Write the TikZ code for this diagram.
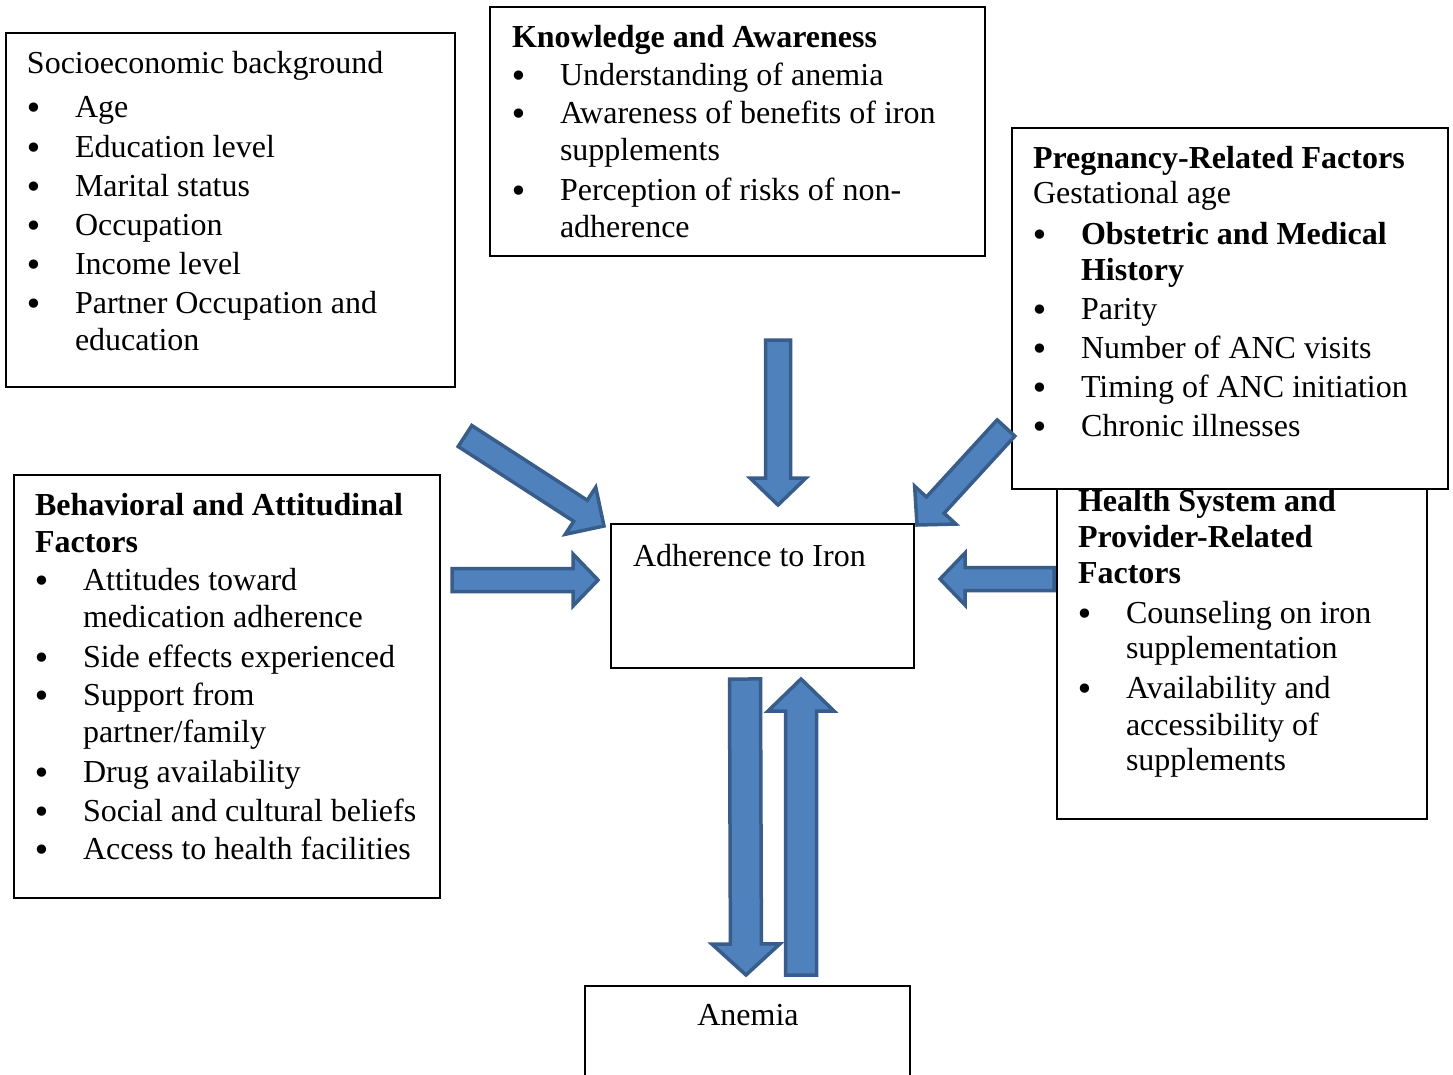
\documentclass[tikz,border=0pt]{standalone}
\usepackage{fontspec}
\setmainfont{Liberation Serif}
\newfontfamily\dejavu{DejaVu Sans}
\usetikzlibrary{calc}
\definecolor{arrfill}{HTML}{4F81BD}
\definecolor{arrline}{HTML}{385D8A}
% #1 tail, #2 tip, #3 half shaft, #4 half head, #5 head length, #6 id
\newcommand\blockarr[6]{%
  \coordinate (#6-base) at ($(#2)!#5pt!(#1)$);
  \draw[blockarrow] ($(#1)!#3pt!90:(#2)$) -- ($(#6-base)!#3pt!90:(#2)$) -- ($(#6-base)!#4pt!90:(#2)$) -- (#2)
    -- ($(#6-base)!#4pt!-90:(#2)$) -- ($(#6-base)!#3pt!-90:(#2)$) -- ($(#1)!#3pt!-90:(#2)$) -- cycle;
}
\newcommand\bu{\makebox[48pt][l]{\hspace*{7pt}\makebox[0pt][c]{\raisebox{-2.5pt}{\dejavu •}}}}
\newcommand\hd[1]{\multicolumn{2}{@{}l@{}}{#1}}
\begin{document}
\begin{tikzpicture}[x=1pt,y=-1pt,
  box/.style={draw, line width=1.8pt, rectangle, inner sep=0pt, outer sep=0pt, anchor=north west, fill=white},
  txt/.style={anchor=base west, inner sep=0pt, outer sep=0pt, font=\fontsize{32}{37}\selectfont},
  blockarrow/.style={fill=arrfill, draw=arrline, line width=3.5pt, line join=miter}]
\useasboundingbox (0,0) rectangle (1453,1074);
\fill[white] (0,0) rectangle (1453,1074);

% Socioeconomic
\node[box, minimum width=449pt, minimum height=354pt] (soc) at (6,33) {};
\node[txt] (soct) at (27,73) {\begin{tabular}[t]{@{}l@{}l@{}}
\hd{Socioeconomic background}\\[7pt]
\bu & Age\\[3pt]
\bu & Education level\\[2pt]
\bu & Marital status\\[2pt]
\bu & Occupation\\[2pt]
\bu & Income level\\[2pt]
\bu & Partner Occupation and\\
 & education
\end{tabular}};

% Knowledge
\node[box, minimum width=495pt, minimum height=249pt] (kno) at (490,7) {};
\node[txt] (knot) at (512,47) {\begin{tabular}[t]{@{}l@{}l@{}}
\hd{\textbf{Knowledge and Awareness}}\\[1pt]
\bu & Understanding of anemia\\[1pt]
\bu & Awareness of benefits of iron\\
 & supplements\\[3pt]
\bu & Perception of risks of non-\\
 & adherence
\end{tabular}};

% Health system (behind pregnancy box)
\node[box, minimum width=370pt, minimum height=341pt] (hea) at (1057,478) {};
\node[txt] (heat) at (1078,511) {\begin{tabular}[t]{@{}l@{}l@{}}
\hd{\textbf{Health System and}}\\[-1pt]
\hd{\textbf{Provider-Related}}\\[-1pt]
\hd{\textbf{Factors}}\\[3pt]
\bu & Counseling on iron\\[-2pt]
 & supplementation\\[3pt]
\bu & Availability and\\
 & accessibility of\\[-2pt]
 & supplements
\end{tabular}};

% Pregnancy
\node[box, minimum width=436pt, minimum height=361pt] (pre) at (1012,128) {};
\node[txt] (pret) at (1033,168) {\begin{tabular}[t]{@{}l@{}l@{}}
\hd{\textbf{Pregnancy-Related Factors}}\\[-2pt]
\hd{Gestational age}\\[4pt]
\bu & \textbf{Obstetric and Medical}\\[-1pt]
 & \textbf{History}\\[2pt]
\bu & Parity\\[2pt]
\bu & Number of ANC visits\\[2pt]
\bu & Timing of ANC initiation\\[2pt]
\bu & Chronic illnesses
\end{tabular}};

% Behavioral
\node[box, minimum width=426pt, minimum height=423pt] (beh) at (14,475) {};
\node[txt] (beht) at (35,515) {\begin{tabular}[t]{@{}l@{}l@{}}
\hd{\textbf{Behavioral and Attitudinal}}\\
\hd{\textbf{Factors}}\\[1pt]
\bu & Attitudes toward\\
 & medication adherence\\[3pt]
\bu & Side effects experienced\\[1pt]
\bu & Support from\\
 & partner/family\\[3pt]
\bu & Drug availability\\[2pt]
\bu & Social and cultural beliefs\\[1pt]
\bu & Access to health facilities
\end{tabular}};

% Adherence
\node[box, minimum width=303pt, minimum height=144pt] (adh) at (611,524) {};
\node[txt] (adht) at (633,566) {Adherence to Iron};

% Anemia
\node[box, minimum width=325pt, minimum height=130pt] (ane) at (585,986) {};
\node[txt, anchor=base] (anet) at (748,1025) {Anemia};

% arrows
\coordinate (kT) at (778,340); \coordinate (kP) at (778,505);
\coordinate (bT) at (452,580); \coordinate (bP) at (598,580);
\coordinate (hT) at (1054,579); \coordinate (hP) at (940,579);
\coordinate (sT) at (465,436); \coordinate (sP) at (604,526);
\coordinate (pT) at (1006,428); \coordinate (pP) at (917,525);
\coordinate (dT) at (745,679); \coordinate (dP) at (746,975);
\coordinate (uT) at (801,975); \coordinate (uP) at (801,679);
\blockarr{kT}{kP}{12.5}{28}{27}{k}
\blockarr{bT}{bP}{11.5}{26}{25}{b}
\blockarr{hT}{hP}{11.5}{26}{25}{h}
\blockarr{sT}{sP}{12.5}{28}{28}{s}
\blockarr{pT}{pP}{12}{28}{27}{p}
\blockarr{dT}{dP}{15.5}{34}{31}{d}
\blockarr{uT}{uP}{15.5}{33}{32}{u}
\end{tikzpicture}
\end{document}
